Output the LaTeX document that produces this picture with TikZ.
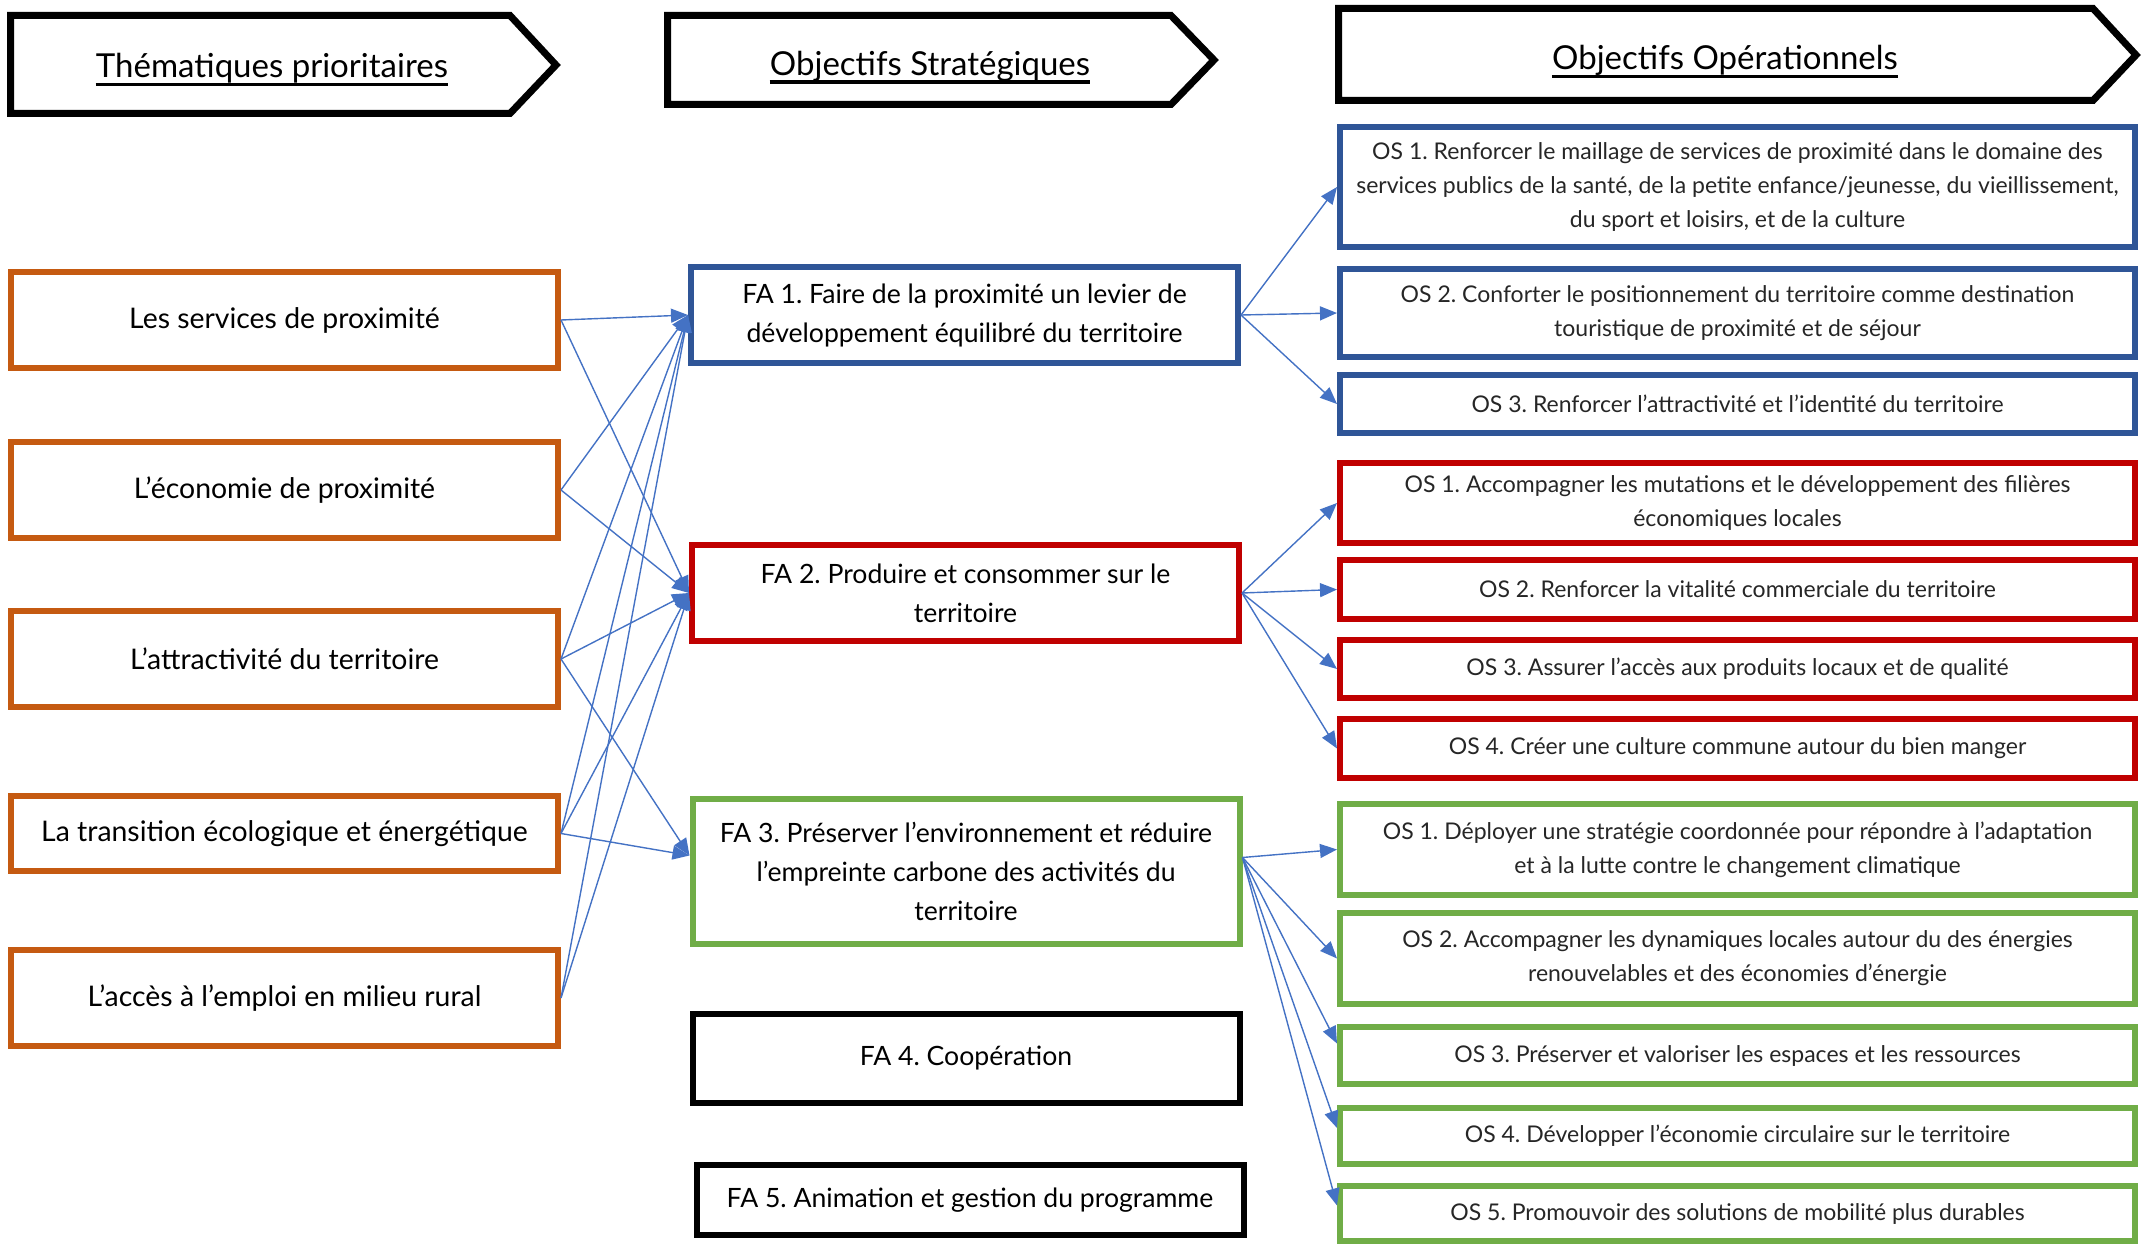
\documentclass[tikz,border=0pt]{standalone}
\usepackage{fontspec}
\setmainfont{Lato}
\usetikzlibrary{arrows.meta,calc}
\definecolor{cOrange}{HTML}{C55A11}
\definecolor{cBlue}{HTML}{2F5597}
\definecolor{cRed}{HTML}{C00000}
\definecolor{cGreen}{HTML}{70AD47}
\definecolor{cArrow}{HTML}{4472C4}
\begin{document}
\frenchspacing
\begin{tikzpicture}[x=0.5pt,y=-0.5pt,
  box/.style={draw, line width=3pt, fill=white, align=center, inner sep=0pt, text=black},
  them/.style={box, draw=cOrange, minimum width=273.5pt, minimum height=48pt, font=\fontsize{14.2}{18}\selectfont},
  fa/.style={box, minimum width=273.5pt, font=\fontsize{13.3}{19.5}\selectfont},
  os/.style={box, minimum width=397.5pt, text=black!85, font=\fontsize{11.5}{17}\selectfont},
  hdr/.style={draw=black, line width=3.5pt, line join=miter, fill=white},
  htext/.style={anchor=base, inner sep=0pt, font=\fontsize{16.5}{19}\selectfont},
  uline/.style={line width=1.75pt},
  link/.style={cArrow, line width=0.7pt, -{Triangle[length=8.5pt,width=7pt]}}
]
\useasboundingbox (0,0) rectangle (2152,1246);

% headers
\draw[hdr] (10.5,15.5) -- (510,15.5) -- (556,65) -- (510,113.5) -- (10.5,113.5) -- cycle;
\draw[hdr] (667.5,15.5) -- (1171,15.5) -- (1214,60) -- (1171,104.5) -- (667.5,104.5) -- cycle;
\draw[hdr] (1338.5,8.5) -- (2093,8.5) -- (2136,55) -- (2093,100.5) -- (1338.5,100.5) -- cycle;
\node[htext] (h1) at (272,78) {Thématiques prioritaires};
\node[htext] (h2) at (930,75.5) {Objectifs Stratégiques};
\node[htext] (h3) at (1725,70) {Objectifs Opérationnels};
\foreach \h in {h1,h2,h3}
  \draw[uline] ([yshift=-3.3pt]\h.base west) -- ([yshift=-3.3pt]\h.base east);

% left column
\node[them] (t1) at (284.5,320) {Les services de proximité};
\node[them] (t2) at (284.5,490) {L’économie de proximité};
\node[them] (t3) at (284.5,659) {L’attractivité du territoire};
\node[them, minimum height=37.5pt] (t4) at (284.5,833.5) {La transition écologique et énergétique};
\node[them] (t5) at (284.5,998) {L’accès à l’emploi en milieu rural};

% middle column
\node[fa, draw=cBlue, minimum height=48pt] (fa1) at (964.5,315) {FA 1. Faire de la proximité un levier de\\développement équilibré du territoire};
\node[fa, draw=cRed, minimum height=48pt] (fa2) at (965.5,593) {FA 2. Produire et consommer sur le\\territoire};
\node[fa, draw=cGreen, minimum height=72.5pt] (fa3) at (966,871.5) {FA 3. Préserver l’environnement et réduire\\l’empreinte carbone des activités du\\territoire};
\node[fa, draw=black, minimum height=44.5pt] (fa4) at (966,1058.5) {FA 4. Coopération};
\node[fa, draw=black, minimum height=35pt] (fa5) at (970,1200) {FA 5. Animation et gestion du programme};

% right column
\node[os, draw=cBlue, minimum height=60pt] (os11) at (1737.5,187) {OS 1. Renforcer le maillage de services de proximité dans le domaine des\\services publics de la santé, de la petite enfance/jeunesse, du vieillissement,\\du sport et loisirs, et de la culture};
\node[os, draw=cBlue, minimum height=44pt] (os12) at (1737.5,313) {OS 2. Conforter le positionnement du territoire comme destination\\touristique de proximité et de séjour};
\node[os, draw=cBlue, minimum height=29pt] (os13) at (1737.5,404) {OS 3. Renforcer l’attractivité et l’identité du territoire};
\node[os, draw=cRed, minimum height=40pt] (os21) at (1737.5,503) {OS 1. Accompagner les mutations et le développement des filières\\économiques locales};
\node[os, draw=cRed, minimum height=29.5pt] (os22) at (1737.5,589.5) {OS 2. Renforcer la vitalité commerciale du territoire};
\node[os, draw=cRed, minimum height=29pt] (os23) at (1737.5,669) {OS 3. Assurer l’accès aux produits locaux et de qualité};
\node[os, draw=cRed, minimum height=29.5pt] (os24) at (1737.5,748.5) {OS 4. Créer une culture commune autour du bien manger};
\node[os, draw=cGreen, minimum height=45.5pt] (os31) at (1737.5,849.5) {OS 1. Déployer une stratégie coordonnée pour répondre à l’adaptation\\et à la lutte contre le changement climatique};
\node[os, draw=cGreen, minimum height=45.5pt] (os32) at (1737.5,958.5) {OS 2. Accompagner les dynamiques locales autour du des énergies\\renouvelables et des économies d’énergie};
\node[os, draw=cGreen, minimum height=28.5pt] (os33) at (1737.5,1055.5) {OS 3. Préserver et valoriser les espaces et les ressources};
\node[os, draw=cGreen, minimum height=28pt] (os34) at (1737.5,1136) {OS 4. Développer l’économie circulaire sur le territoire};
\node[os, draw=cGreen, minimum height=27.5pt] (os35) at (1737.5,1213.5) {OS 5. Promouvoir des solutions de mobilité plus durables};

% left links
\coordinate (fa3in) at ([yshift=8pt]fa3.west);
\coordinate (fa3out) at ([yshift=7pt]fa3.east);
\foreach \s in {t1,t2,t3,t4,t5} {
  \draw[link] (\s.east) -- (fa1.west);
  \draw[link] (\s.east) -- (fa2.west);
}
\draw[link] (t3.east) -- (fa3in);
\draw[link] (t4.east) -- (fa3in);

% right links
\foreach \o in {os11,os12,os13} \draw[link] (fa1.east) -- (\o.west);
\foreach \o in {os21,os22,os23,os24} \draw[link] (fa2.east) -- (\o.west);
\draw[link] (fa3out) -- (os31.west);
\draw[link] (fa3out) -- (os32.west);
\draw[link] (fa3out) -- ([yshift=6pt]os33.west);
\draw[link] (fa3out) -- ([yshift=4pt]os34.west);
\draw[link] (fa3out) -- ([yshift=4pt]os35.west);
\end{tikzpicture}
\end{document}
